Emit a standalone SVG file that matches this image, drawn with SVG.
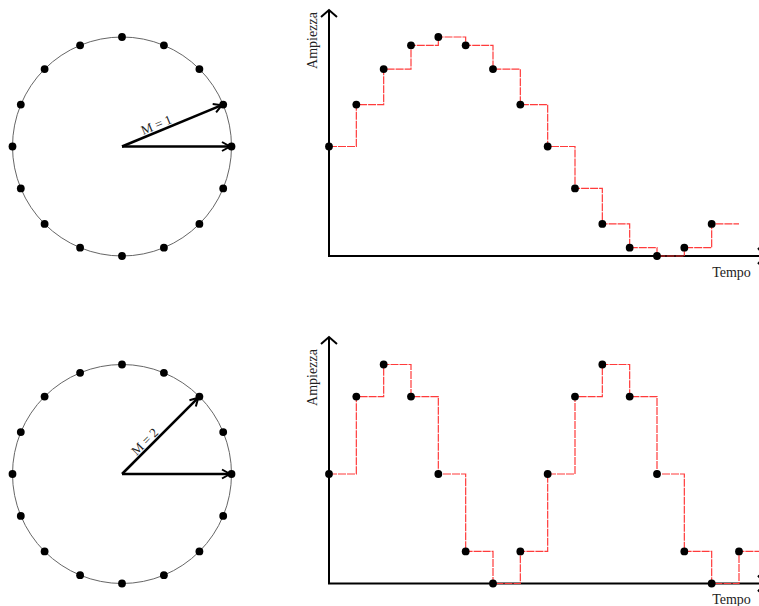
<svg xmlns="http://www.w3.org/2000/svg" xmlns:xlink="http://www.w3.org/1999/xlink" width="759" height="606" viewBox="0 0 759 606">
<style>
.circ{fill:none;stroke:#666;stroke-width:1}
.dot{fill:#000}
.ray{fill:none;stroke:#000;stroke-width:2.5;marker-end:url(#ray)}
.axis{fill:none;stroke:#000;stroke-width:2;marker-end:url(#ax)}
.step{fill:none;stroke:#ff3b3b;stroke-width:1.2;stroke-dasharray:8 1}
.lbl{font-family:"Liberation Serif","Times New Roman",serif;font-size:14px;fill:#222}
.mlbl{font-family:"Liberation Serif","Times New Roman",serif;font-size:13px;fill:#222}
</style>
<defs>
<marker id="ray" viewBox="-10 -6 12 12" refX="0" refY="0" markerWidth="12" markerHeight="12" markerUnits="userSpaceOnUse" orient="auto">
<path d="M-8,-4.5 L0,0 L-8,4.5" fill="none" stroke="#000" stroke-width="2"/>
</marker>
<marker id="ax" viewBox="-10 -10 12 20" refX="0" refY="0" markerWidth="12" markerHeight="20" markerUnits="userSpaceOnUse" orient="auto">
<path d="M-7,-8 L0,0 L-7,8" fill="none" stroke="#000" stroke-width="2"/>
</marker>
<circle id="d" r="3.9" class="dot"/>
</defs>

<g id="circle-top">
<circle class="circ" cx="122" cy="146.5" r="109.5"/>
<g>
<use xlink:href="#d" x="231.5" y="146.5"/>
<use xlink:href="#d" x="223.2" y="104.6"/>
<use xlink:href="#d" x="199.4" y="69.1"/>
<use xlink:href="#d" x="163.9" y="45.3"/>
<use xlink:href="#d" x="122" y="37"/>
<use xlink:href="#d" x="80.1" y="45.3"/>
<use xlink:href="#d" x="44.6" y="69.1"/>
<use xlink:href="#d" x="20.8" y="104.6"/>
<use xlink:href="#d" x="12.5" y="146.5"/>
<use xlink:href="#d" x="20.8" y="188.4"/>
<use xlink:href="#d" x="44.6" y="223.9"/>
<use xlink:href="#d" x="80.1" y="247.7"/>
<use xlink:href="#d" x="122" y="256"/>
<use xlink:href="#d" x="163.9" y="247.7"/>
<use xlink:href="#d" x="199.4" y="223.9"/>
<use xlink:href="#d" x="223.2" y="188.4"/>
</g>
<line class="ray" x1="122" y1="146.5" x2="230" y2="146.5"/>
<line class="ray" x1="122" y1="146.5" x2="221.8" y2="105.2"/>
<text class="mlbl" transform="translate(122,146.5) rotate(-22.5)" x="40" y="-2.5" text-anchor="middle">M = 1</text>
</g>

<g id="circle-bottom">
<circle class="circ" cx="122" cy="474" r="109.5"/>
<g>
<use xlink:href="#d" x="231.5" y="474"/>
<use xlink:href="#d" x="223.2" y="432.1"/>
<use xlink:href="#d" x="199.4" y="396.6"/>
<use xlink:href="#d" x="163.9" y="372.8"/>
<use xlink:href="#d" x="122" y="364.5"/>
<use xlink:href="#d" x="80.1" y="372.8"/>
<use xlink:href="#d" x="44.6" y="396.6"/>
<use xlink:href="#d" x="20.8" y="432.1"/>
<use xlink:href="#d" x="12.5" y="474"/>
<use xlink:href="#d" x="20.8" y="515.9"/>
<use xlink:href="#d" x="44.6" y="551.4"/>
<use xlink:href="#d" x="80.1" y="575.2"/>
<use xlink:href="#d" x="122" y="583.5"/>
<use xlink:href="#d" x="163.9" y="575.2"/>
<use xlink:href="#d" x="199.4" y="551.4"/>
<use xlink:href="#d" x="223.2" y="515.9"/>
</g>
<line class="ray" x1="122" y1="474" x2="230" y2="474"/>
<line class="ray" x1="122" y1="474" x2="198.3" y2="397.7"/>
<text class="mlbl" transform="translate(122,474) rotate(-45)" x="39" y="-2.5" text-anchor="middle">M = 2</text>
</g>

<g id="graph-top">
<line class="axis" x1="329" y1="256" x2="329" y2="10"/>
<line class="axis" x1="328" y1="256" x2="765" y2="256"/>
<path class="step" d="M329,146.5 H356.33 V104.6 H383.67 V69.1 H411 V45.3 H438.33 V37 H465.67 V45.3 H493 V69.1 H520.33 V104.6 H547.67 V146.5 H575 V188.4 H602.33 V223.9 H629.67 V247.7 H657 V256 H684.33 V247.7 H711.67 V223.9 H739"/>
<g>
<use xlink:href="#d" x="329" y="146.5"/>
<use xlink:href="#d" x="356.33" y="104.6"/>
<use xlink:href="#d" x="383.67" y="69.1"/>
<use xlink:href="#d" x="411" y="45.3"/>
<use xlink:href="#d" x="438.33" y="37"/>
<use xlink:href="#d" x="465.67" y="45.3"/>
<use xlink:href="#d" x="493" y="69.1"/>
<use xlink:href="#d" x="520.33" y="104.6"/>
<use xlink:href="#d" x="547.67" y="146.5"/>
<use xlink:href="#d" x="575" y="188.4"/>
<use xlink:href="#d" x="602.33" y="223.9"/>
<use xlink:href="#d" x="629.67" y="247.7"/>
<use xlink:href="#d" x="657" y="256"/>
<use xlink:href="#d" x="684.33" y="247.7"/>
<use xlink:href="#d" x="711.67" y="223.9"/>
</g>
<text class="lbl" transform="translate(317,40.5) rotate(-90)" text-anchor="middle">Ampiezza</text>
<text class="lbl" x="731.5" y="277" text-anchor="middle">Tempo</text>
</g>

<g id="graph-bottom">
<line class="axis" x1="329" y1="583.5" x2="329" y2="337"/>
<line class="axis" x1="328" y1="583.5" x2="765" y2="583.5"/>
<path class="step" d="M329,474 H356.33 V396.6 H383.67 V364.5 H411 V396.6 H438.33 V474 H465.67 V551.4 H493 V583.5 H520.33 V551.4 H547.67 V474 H575 V396.6 H602.33 V364.5 H629.67 V396.6 H657 V474 H684.33 V551.4 H711.67 V583.5 H739 V551.4 H760"/>
<g>
<use xlink:href="#d" x="329" y="474"/>
<use xlink:href="#d" x="356.33" y="396.6"/>
<use xlink:href="#d" x="383.67" y="364.5"/>
<use xlink:href="#d" x="411" y="396.6"/>
<use xlink:href="#d" x="438.33" y="474"/>
<use xlink:href="#d" x="465.67" y="551.4"/>
<use xlink:href="#d" x="493" y="583.5"/>
<use xlink:href="#d" x="520.33" y="551.4"/>
<use xlink:href="#d" x="547.67" y="474"/>
<use xlink:href="#d" x="575" y="396.6"/>
<use xlink:href="#d" x="602.33" y="364.5"/>
<use xlink:href="#d" x="629.67" y="396.6"/>
<use xlink:href="#d" x="657" y="474"/>
<use xlink:href="#d" x="684.33" y="551.4"/>
<use xlink:href="#d" x="711.67" y="583.5"/>
<use xlink:href="#d" x="739" y="551.4"/>
</g>
<text class="lbl" transform="translate(317,377.5) rotate(-90)" text-anchor="middle">Ampiezza</text>
<text class="lbl" x="731.5" y="604" text-anchor="middle">Tempo</text>
</g>
</svg>
